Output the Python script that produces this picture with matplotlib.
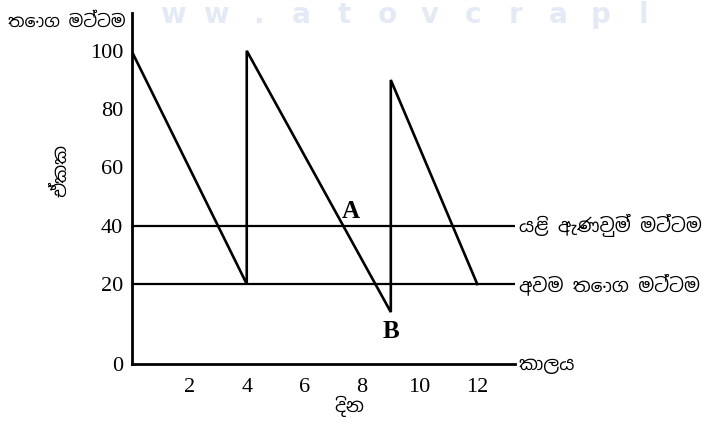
import matplotlib
matplotlib.use("Agg")
import matplotlib.pyplot as plt
from matplotlib import font_manager
import numpy as np

# stock level over time (days)
days = [0, 4, 4, 9, 9, 12]
stock = [100, 20, 100, 13, 90, 20]

reorder_level = 40
min_level = 20

x_ticks = [2, 4, 6, 8, 10, 12]
y_ticks = [0, 20, 40, 60, 80, 100]

title_top = "තොග මට්ටම"
y_label = "ඒකක"
x_label = "දින"
reorder_label = "යළි ඇණවුම් මට්ටම"
min_label = "අවම තොග මට්ටම"
time_label = "කාලය"
watermark = "ww.atovcrapl"

# Sinhala font if one happens to be there, else DejaVu
sinhala = [f.name for f in font_manager.fontManager.ttflist if "Sinhala" in f.name]
si_family = sinhala[:1] + ["DejaVu Sans"]
num_family = ["Liberation Serif", "DejaVu Serif"]

# the 0..20 band is drawn stretched in the original
k = 1.375


def fwd(y):
    y = np.asarray(y, dtype=float)
    return np.where(y >= 20, y, 20 - (20 - y) * k)


def inv(v):
    v = np.asarray(v, dtype=float)
    return np.where(v >= 20, v, 20 - (20 - v) / k)


fig = plt.figure(figsize=(7.07, 4.30), dpi=100)

# faint site watermark along the top edge
for i, ch in enumerate(watermark):
    fig.text(0.245 + i * 0.0605, 0.998, ch, fontsize=20, fontweight="bold",
             color="#e4eaf5", ha="center", va="top", zorder=0)

ax = fig.add_axes([0.186, 0.153, 0.542, 0.817])
ax.patch.set_alpha(0)
ax.set_yscale("function", functions=(fwd, inv))

ax.plot(days, stock, color="black", lw=1.9, solid_joinstyle="miter")
ax.axhline(reorder_level, color="black", lw=1.6)
ax.axhline(min_level, color="black", lw=1.6)

ax.set_xlim(0, 13.3)
ax.set_ylim(0, 113)

for s in ["top", "right"]:
    ax.spines[s].set_visible(False)
for s in ["left", "bottom"]:
    ax.spines[s].set_linewidth(2.0)

ax.set_xticks(x_ticks)
ax.set_yticks(y_ticks)
ax.tick_params(length=0, pad=10)
ax.tick_params(axis="y", pad=6)
for lab in ax.get_xticklabels() + ax.get_yticklabels():
    lab.set_family(num_family)
    lab.set_fontsize(16)

# point labels
ax.text(7.6, 41, "A", family=num_family, fontsize=18, fontweight="bold",
        ha="center", va="bottom")
ax.text(9.0, 11, "B", family=num_family, fontsize=18, fontweight="bold",
        ha="center", va="top")

# right-hand labels
si_kw = dict(family=si_family, fontsize=13.5, fontweight="bold")
ax.text(1.01, reorder_level, reorder_label, transform=ax.get_yaxis_transform(),
        va="center", ha="left", **si_kw)
ax.text(1.01, min_level, min_label, transform=ax.get_yaxis_transform(),
        va="center", ha="left", **si_kw)
ax.text(1.01, 0, time_label, transform=ax.get_yaxis_transform(),
        va="center", ha="left", **si_kw)

# stock level label above y axis
ax.text(-0.015, 1.0, title_top, transform=ax.transAxes, ha="right", va="top",
        family=si_family, fontsize=12.5, fontweight="bold")

ax.set_ylabel(y_label, **si_kw)
ax.yaxis.set_label_coords(-0.16, 0.55)
ax.set_xlabel(x_label, **si_kw)
ax.xaxis.set_label_coords(0.57, -0.09)

fig.savefig("out.png", dpi=100)
